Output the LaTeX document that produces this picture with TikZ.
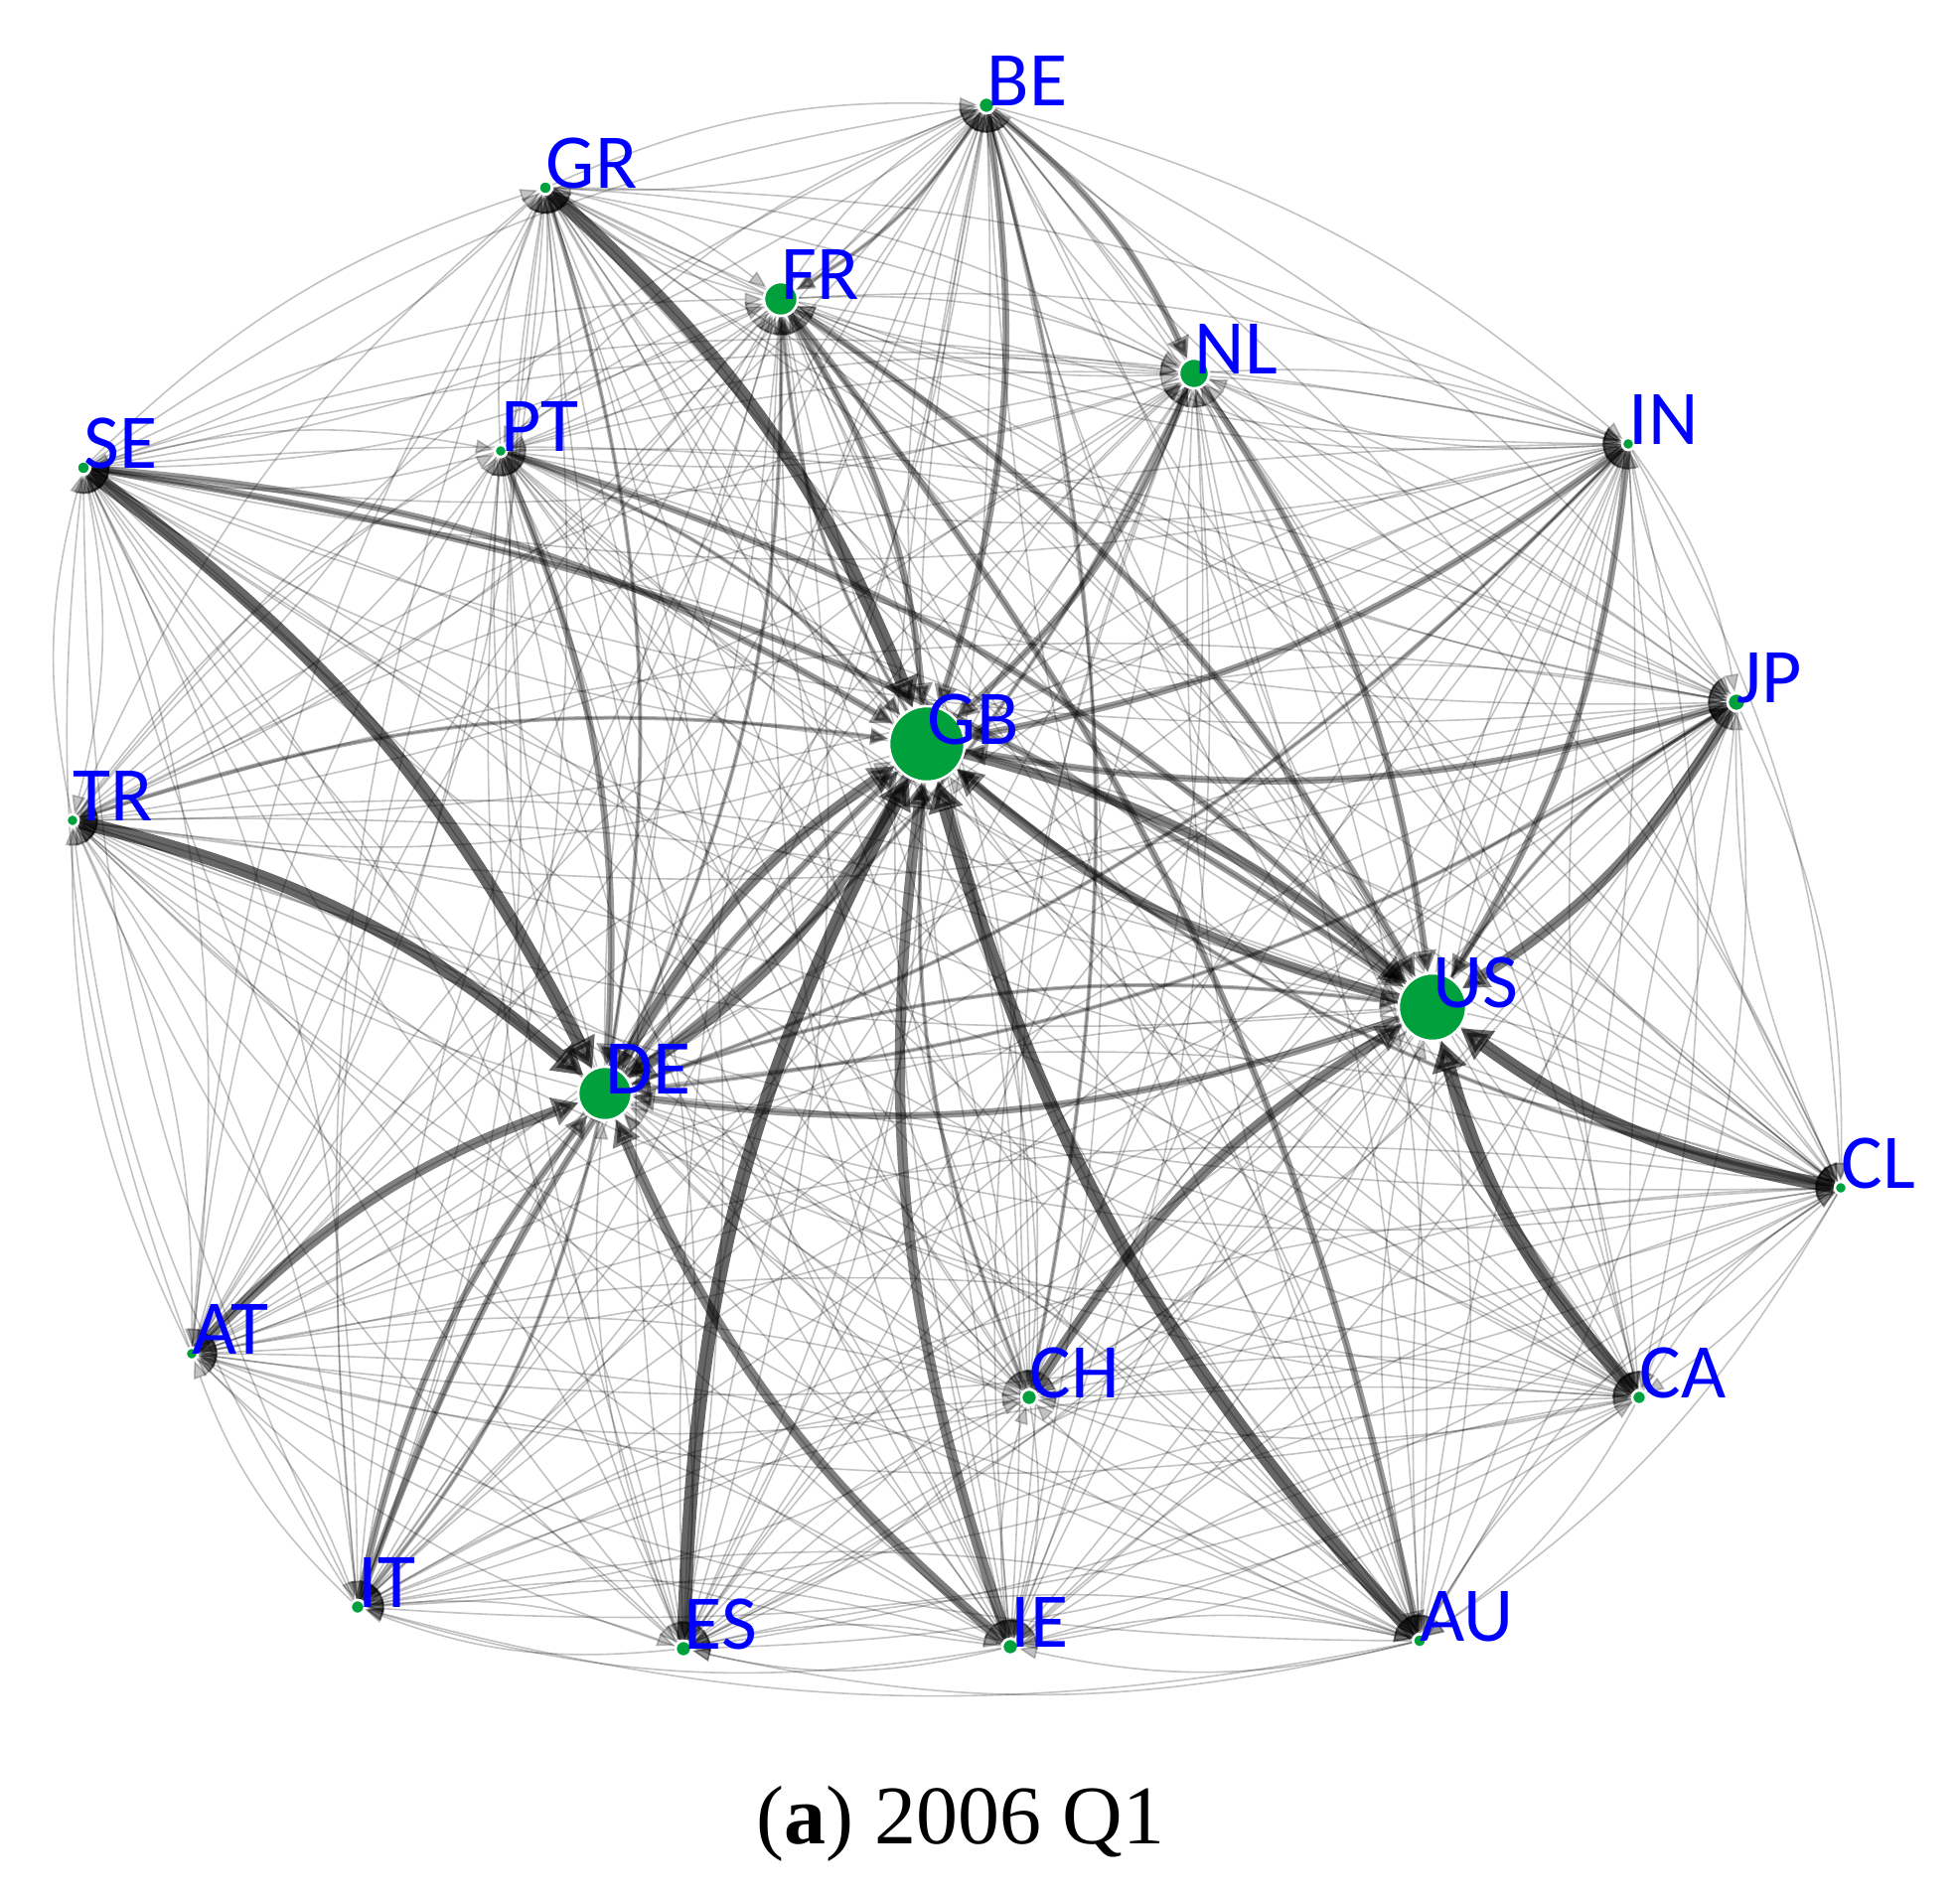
\documentclass[tikz,border=0pt]{standalone}
\usepackage{fontspec}
\newfontfamily\labfont{Carlito}
\newfontfamily\capfont{Liberation Serif}
\usetikzlibrary{arrows.meta}
\pgfdeclarelayer{edges}
\pgfsetlayers{edges,main}
\definecolor{nodegreen}{RGB}{0,160,60}
\definecolor{labblue}{RGB}{0,0,255}
\begin{document}
\begin{tikzpicture}[x=0.25pt,y=-0.25pt,
  dot/.style={circle,fill=nodegreen,draw=white,line width=0.625pt,inner sep=0pt,minimum size=#1},
  lab/.style={anchor=base west,inner sep=0pt,text=labblue,font=\labfont\fontsize{19.5}{19.5}\selectfont},
  e0/.style={draw=black,opacity=0.24,line width=0.4pt,-{Triangle[length=4.5pt,width=3.5pt]},bend left=13},
  e1/.style={draw=black,opacity=0.32,line width=1pt,-{Triangle[length=4.5pt,width=4.2pt]},bend left=13},
  e2/.style={draw=black,opacity=0.4,line width=1.7pt,-{Triangle[length=5.5pt,width=5.5pt]},bend left=13},
  e3/.style={draw=black,opacity=0.5,line width=2.6pt,-{Triangle[length=6.5pt,width=7pt]},bend left=13},
  e4/.style={draw=black,opacity=0.6,line width=3.4pt,-{Triangle[length=7.5pt,width=8.5pt]},bend left=13},
]
\useasboundingbox (0,0) rectangle (1973,1907);
% nodes
\node[dot=4pt] (BE) at (993,106) {};
\node[dot=3.3pt] (GR) at (549,189) {};
\node[dot=8.5pt] (FR) at (786,301) {};
\node[dot=7.5pt] (NL) at (1202,376) {};
\node[dot=3pt] (IN) at (1639,447) {};
\node[dot=3.3pt] (SE) at (84,471) {};
\node[dot=3pt] (PT) at (504,454) {};
\node[dot=4.5pt] (JP) at (1748,707) {};
\node[dot=19pt] (GB) at (933,749) {};
\node[dot=3pt] (TR) at (73,826) {};
\node[dot=17pt] (US) at (1442,1014) {};
\node[dot=13.5pt] (DE) at (609,1101) {};
\node[dot=3pt] (CL) at (1853,1196) {};
\node[dot=3pt] (AT) at (193,1363) {};
\node[dot=4pt] (CH) at (1036,1407) {};
\node[dot=3.5pt] (CA) at (1650,1407) {};
\node[dot=3.5pt] (IT) at (360,1618) {};
\node[dot=4pt] (ES) at (688,1660) {};
\node[dot=4pt] (IE) at (1017,1658) {};
\node[dot=3.3pt] (AU) at (1429,1652) {};
% edges
\begin{pgfonlayer}{edges}
\foreach \a [count=\i] in {BE,GR,FR,NL,IN,SE,PT,JP,GB,TR,US,DE,CL,AT,CH,CA,IT,ES,IE,AU}{
  \foreach \b [count=\j] in {BE,GR,FR,NL,IN,SE,PT,JP,GB,TR,US,DE,CL,AT,CH,CA,IT,ES,IE,AU}{
    \ifnum\i=\j\relax\else\draw[e0] (\a) to (\b);\fi
  }
}
\foreach \a/\b in {IN/DE,TR/GB,BE/CH,DE/US,PT/GB,GR/DE,JP/DE,CL/GB,NL/DE,FR/DE,DE/IT,BE/FR,GB/FR,CH/GB,US/JP}
  \draw[e1] (\a) to (\b);
\foreach \a/\b in {PT/DE,SE/GB,NL/GB,BE/NL,IN/GB,IN/US,NL/US,FR/US,SE/US,IT/DE,IT/GB,US/DE,FR/GB,BE/GB,JP/GB,FR/AU,PT/US}
  \draw[e2] (\a) to (\b);
\foreach \a/\b in {AT/DE,IE/GB,JP/US,GB/US,US/GB,CH/US,DE/GB,GB/DE,IE/DE}
  \draw[e3] (\a) to (\b);
\foreach \a/\b in {GR/GB,SE/DE,TR/DE,AU/GB,CL/US,CA/US,ES/GB}
  \draw[e4] (\a) to (\b);
\end{pgfonlayer}
% labels
\foreach \n in {BE,GR,FR,NL,IN,SE,PT,JP,GB,TR,US,DE,CL,AT,CH,CA,IT,ES,IE,AU}
  \node[lab] (lab\n) at (\n.center) {\n};
\node[anchor=base,inner sep=0pt,font=\capfont\fontsize{21}{21}\selectfont] (cap) at (967,1856) {(\textbf{a}) 2006 Q1};
\end{tikzpicture}
\end{document}
